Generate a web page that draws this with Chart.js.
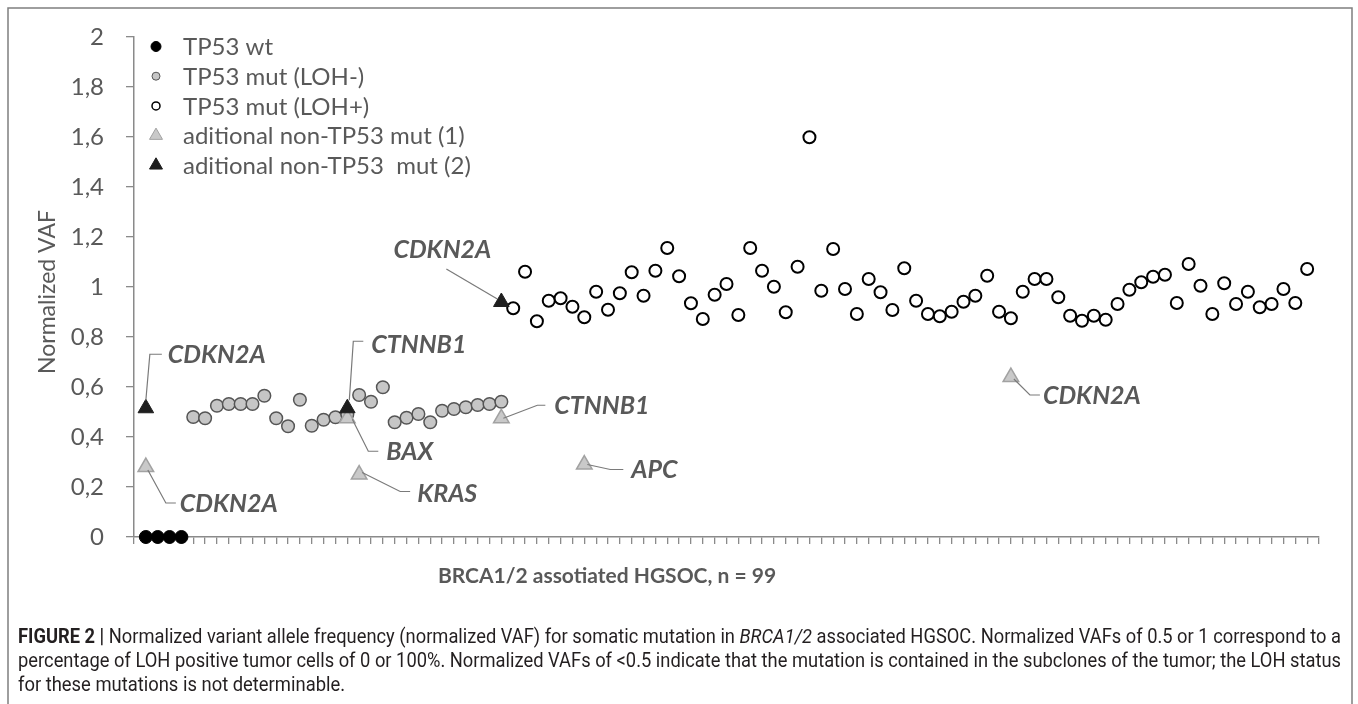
<!DOCTYPE html>
<html>
<head>
<meta charset="utf-8">
<script src="https://cdn.jsdelivr.net/npm/chart.js@4.4.1/dist/chart.umd.min.js"></script>
<style>
  html, body { margin: 0; padding: 0; background: #fff; }
  #wrap { position: relative; width: 1358px; height: 704px; }
</style>
</head>
<body>
<div id="wrap"><canvas id="vafChart" width="1358" height="704"></canvas></div>
<script>
// samples are numbered 1..99 along x (only tick marks, no labels)
const xMax = 100;
const yMin = 0, yMax = 2, yStep = 0.2;

// TP53 wild type
const wtStart = 1;
const wtValues = [0, 0, 0, 0];

// TP53 mut, LOH negative
const lohMinusStart = 5;
const lohMinusValues = [0.48, 0.475, 0.525, 0.532, 0.532, 0.532, 0.565, 0.475, 0.443, 0.549,
  0.445, 0.469, 0.479, 0.49, 0.568, 0.541, 0.599, 0.459, 0.477, 0.492,
  0.459, 0.505, 0.512, 0.519, 0.528, 0.532, 0.541];

// TP53 mut, LOH positive
const lohPlusStart = 32;
const lohPlusValues = [0.915, 1.061, 0.863, 0.945, 0.955, 0.921, 0.879, 0.981, 0.909, 0.975,
  1.059, 0.965, 1.065, 1.156, 1.043, 0.935, 0.872, 0.969, 1.012, 0.888,
  1.156, 1.065, 1.001, 0.899, 1.081, 1.599, 0.985, 1.152, 0.992, 0.892,
  1.032, 0.979, 0.908, 1.075, 0.945, 0.892, 0.883, 0.901, 0.941, 0.965,
  1.045, 0.901, 0.875, 0.981, 1.032, 1.032, 0.959, 0.885, 0.865, 0.885,
  0.869, 0.932, 0.989, 1.019, 1.041, 1.049, 0.936, 1.092, 1.005, 0.892,
  1.015, 0.932, 0.981, 0.919, 0.932, 0.992, 0.936, 1.072];

// additional non-TP53 mutations
const mut1Samples = [1, 18, 19, 31, 38, 74];
const mut1Values = [0.28, 0.475, 0.25, 0.475, 0.29, 0.64];
const mut1Genes = ["CDKN2A", "BAX", "KRAS", "CTNNB1", "APC", "CDKN2A"];

const mut2Samples = [1, 18, 31];
const mut2Values = [0.515, 0.515, 0.94];
const mut2Genes = ["CDKN2A", "CTNNB1", "CDKN2A"];

const legendLabels = ["TP53 wt", "TP53 mut (LOH-)", "TP53 mut (LOH+)",
  "aditional non-TP53 mut (1)", "aditional non-TP53  mut (2)"];

const TEXT = "#595959";
const AXIS = "#8a8a8a";

const run = (start, vals) => vals.map((v, i) => ({ x: start + i, y: v }));
const pick = (xs, vals) => vals.map((v, i) => ({ x: xs[i], y: v }));

// leader lines (pixel offsets from the marker) and label anchor for each gene label
const mut1Leaders = [
  { pts: [[2, 3], [20, 36], [30, 36]], lx: 34, ly: 37, align: "left" },
  { pts: [[5, 1], [21, 33], [31, 33]], lx: 39, ly: 34, align: "left" },
  { pts: [[3, -2], [41, 17], [51, 17]], lx: 58, ly: 19, align: "left" },
  { pts: [[2, 0], [36, -13], [44, -13]], lx: 53, ly: -12, align: "left" },
  { pts: [[3, 0], [26, 5], [39, 5]], lx: 47, ly: 5, align: "left" },
  { pts: [[3, 2], [19, 18], [29, 18]], lx: 32, ly: 19, align: "left" }
];
const mut2Leaders = [
  { pts: [[0, -8], [4, -54], [16, -54]], lx: 22, ly: -53, align: "left" },
  { pts: [[2, -8], [6, -67], [16, -67]], lx: 24, ly: -63, align: "left" },
  { pts: [[-55, -33], [-4, -3]], lx: -10, ly: -52, align: "right" }
];

const datasets = [
  { label: legendLabels[4], data: pick(mut2Samples, mut2Values), order: 1,
    pointStyle: "triangle", pointRadius: 9, backgroundColor: "#1e1e1e", borderColor: "#1e1e1e", borderWidth: 1 },
  { label: legendLabels[3], data: pick(mut1Samples, mut1Values), order: 2,
    pointStyle: "triangle", pointRadius: 9, backgroundColor: "#c9c9c9", borderColor: "#a2a2a2", borderWidth: 1.5 },
  { label: legendLabels[0], data: run(wtStart, wtValues), order: 3,
    pointStyle: "circle", pointRadius: 6.5, backgroundColor: "#000", borderColor: "#000", borderWidth: 1 },
  { label: legendLabels[1], data: run(lohMinusStart, lohMinusValues), order: 4,
    pointStyle: "circle", pointRadius: 6.3, backgroundColor: "#c6c6c6", borderColor: "#555555", borderWidth: 1.5 },
  { label: legendLabels[2], data: run(lohPlusStart, lohPlusValues), order: 5,
    pointStyle: "circle", pointRadius: 6, backgroundColor: "#fff", borderColor: "#000", borderWidth: 2 }
];
datasets.forEach(d => { d.clip = false; d.pointHoverRadius = d.pointRadius; });

function drawRichLine(ctx, segs, x, y, width, justify) {
  const toks = [];
  segs.forEach(s => s.t.split(/( )/).forEach(w => { if (w !== "") toks.push({ w: w, f: s.f }); }));
  let nat = 0, spaces = 0;
  toks.forEach(t => { ctx.font = t.f; t.wd = ctx.measureText(t.w).width; nat += t.wd; if (t.w === " ") spaces++; });
  let sx = 0.92, extra = 0;
  if (justify) { if (nat * sx > width) sx = width / nat; else extra = (width / sx - nat) / spaces; }
  ctx.save();
  ctx.translate(x, y);
  ctx.scale(sx, 1);
  let cx = 0;
  toks.forEach(t => {
    ctx.font = t.f;
    if (t.w === " ") cx += t.wd + extra;
    else { ctx.fillText(t.w, cx, 0); cx += t.wd; }
  });
  ctx.restore();
}

const decor = {
  id: "decor",
  afterDraw(chart) {
    const ctx = chart.ctx;
    const xs = chart.scales.x, ys = chart.scales.y;
    ctx.save();

    // outer frame
    ctx.strokeStyle = "#7f7f7f";
    ctx.lineWidth = 1.5;
    ctx.beginPath();
    ctx.moveTo(8, 704); ctx.lineTo(8, 8); ctx.lineTo(1352, 8); ctx.lineTo(1352, 704);
    ctx.stroke();

    // legend
    const rows = [2, 3, 4, 1, 0];
    const sizes = [5, 4, 4, 7.5, 7.5];
    rows.forEach((di, k) => {
      const ds = datasets[di];
      const y = 46.5 + k * 29.7;
      ctx.fillStyle = ds.backgroundColor;
      ctx.strokeStyle = ds.borderColor;
      ctx.lineWidth = k === 2 ? 1.5 : 1;
      Chart.helpers.drawPoint(ctx, { pointStyle: ds.pointStyle, radius: sizes[k], rotation: 0, borderWidth: ctx.lineWidth }, 156, y);
      ctx.fillStyle = TEXT;
      ctx.font = "24px Lato";
      ctx.textAlign = "left";
      ctx.textBaseline = "middle";
      ctx.fillText(legendLabels[k], 183, y + 1);
    });

    // axis titles
    ctx.fillStyle = TEXT;
    ctx.font = "23px Lato";
    ctx.textAlign = "center";
    ctx.textBaseline = "middle";
    ctx.save();
    ctx.translate(48, 292);
    ctx.rotate(-Math.PI / 2);
    ctx.fillText("Normalized VAF", 0, 0);
    ctx.restore();
    ctx.font = "bold 21px Lato";
    ctx.fillText("BRCA1/2 assotiated HGSOC, n = 99", 607, 576);

    // gene labels with leader lines
    const labelSet = (samples, values, genes, leaders) => {
      samples.forEach((s, i) => {
        const px = xs.getPixelForValue(s), py = ys.getPixelForValue(values[i]);
        const L = leaders[i];
        ctx.strokeStyle = "#7a7a7a";
        ctx.lineWidth = 1.2;
        ctx.beginPath();
        L.pts.forEach((p, j) => j ? ctx.lineTo(px + p[0], py + p[1]) : ctx.moveTo(px + p[0], py + p[1]));
        ctx.stroke();
        ctx.fillStyle = TEXT;
        ctx.font = "italic bold 25px Lato";
        ctx.textAlign = L.align;
        ctx.textBaseline = "middle";
        ctx.fillText(genes[i], px + L.lx, py + L.ly);
      });
    };
    labelSet(mut1Samples, mut1Values, mut1Genes, mut1Leaders);
    labelSet(mut2Samples, mut2Values, mut2Genes, mut2Leaders);

    // caption
    const cap = '"Liberation Sans Narrow", "Arial Narrow", Roboto, sans-serif';
    ctx.fillStyle = "#231f20";
    ctx.textAlign = "left";
    ctx.textBaseline = "middle";
    drawRichLine(ctx, [
      { t: "FIGURE 2 | ", f: "bold 20px " + cap },
      { t: "Normalized variant allele frequency (normalized VAF) for somatic mutation in ", f: "20px " + cap },
      { t: "BRCA1/2", f: "italic 20px " + cap },
      { t: " associated HGSOC. Normalized VAFs of 0.5 or 1 correspond to a", f: "20px " + cap }
    ], 18, 638, 1323, true);
    drawRichLine(ctx, [
      { t: "percentage of LOH positive tumor cells of 0 or 100%. Normalized VAFs of <0.5 indicate that the mutation is contained in the subclones of the tumor; the LOH status", f: "20px " + cap }
    ], 18, 662, 1323, true);
    drawRichLine(ctx, [
      { t: "for these mutations is not determinable.", f: "20px " + cap }
    ], 18, 686, 1323, false);

    ctx.restore();
  }
};

new Chart(document.getElementById("vafChart"), {
  type: "scatter",
  data: { datasets: datasets },
  options: {
    responsive: false,
    animation: false,
    devicePixelRatio: 1,
    layout: { padding: { left: 0, right: 39, top: 37, bottom: 156 } },
    plugins: { legend: { display: false }, tooltip: { enabled: false } },
    scales: {
      x: {
        type: "linear", min: 0, max: xMax,
        ticks: { stepSize: 1, maxTicksLimit: 200, display: false },
        grid: { drawOnChartArea: false, drawTicks: true, tickLength: 7, color: AXIS, lineWidth: 1.3 },
        border: { display: true, color: AXIS, width: 1.5 },
        afterFit: s => { s.height = 11; }
      },
      y: {
        type: "linear", min: yMin, max: yMax,
        ticks: {
          stepSize: yStep, color: TEXT, padding: 22,
          font: { family: "Lato", size: 24 },
          callback: v => String(Number(v.toFixed(1))).replace(".", ",")
        },
        grid: { drawOnChartArea: false, drawTicks: true, tickLength: 8, color: AXIS, lineWidth: 1.3 },
        border: { display: true, color: AXIS, width: 1.5 },
        afterFit: s => { s.height; s.width = 134; }
      }
    }
  },
  plugins: [decor]
});
</script>
</body>
</html>
